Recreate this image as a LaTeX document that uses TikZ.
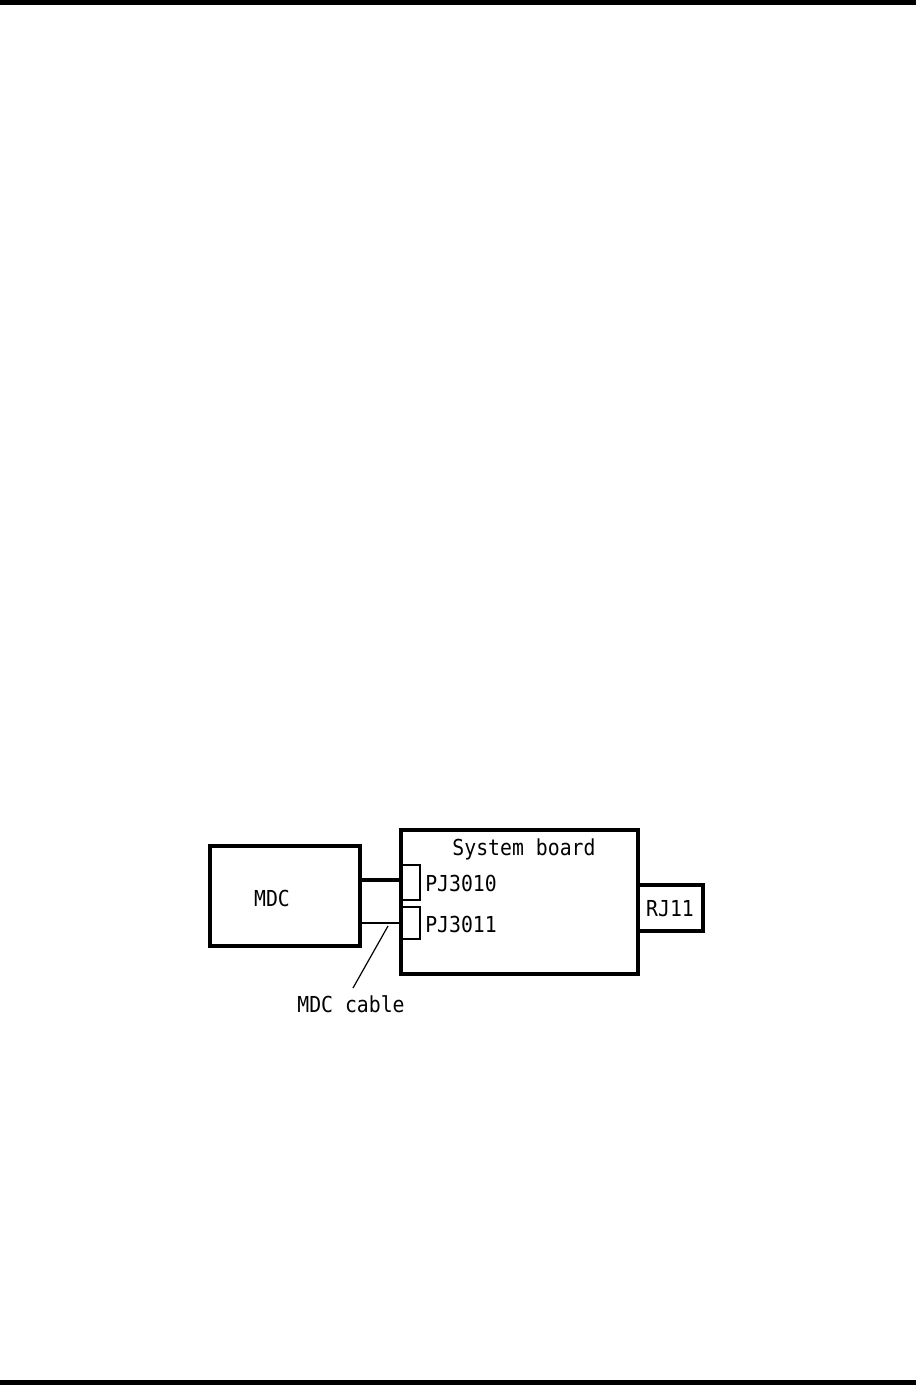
\documentclass[tikz,border=0pt]{standalone}
\usepackage{fontspec}
\setmonofont[FakeStretch=0.9]{DejaVu Sans Mono}
\begin{document}
\begin{tikzpicture}[x=0.75pt,y=-0.75pt,
  box/.style={draw=black,line width=2.3pt},
  conn/.style={draw=black,line width=1.7pt},
  lbl/.style={inner sep=0pt,font=\ttfamily\fontsize{16.5pt}{18pt}\selectfont},
  bar/.style={fill=black,draw=none}]
\useasboundingbox (0,0) rectangle (916,1385);
\fill[white] (0,0) rectangle (916,1385);
% page rules
\path[bar] (0,0) rectangle (916,5);
\path[bar] (0,1380) rectangle (916,1385);
% boxes
\draw[box] (210,846) rectangle (360,946);
\coordinate (mdcR1) at (360,880);
\coordinate (mdcR2) at (360,923);
\draw[box] (401,830) rectangle (638,974);
\draw[conn] (401,865) rectangle (420,900);
\draw[conn] (401,907) rectangle (420,939);
\draw[box] (638,885) rectangle (703,931);
\coordinate (pj0) at (401,880);
\coordinate (pj1) at (401,923);
% cables
\draw[line width=2.4pt] (mdcR1) -- (pj0);
\draw[line width=1.7pt] (mdcR2) -- (pj1);
% labels
\node[lbl] (sys) at (524,849) {System board};
\node[lbl,anchor=west] (p10) at (425,883) {PJ3010};
\node[lbl,anchor=west] (p11) at (425,924) {PJ3011};
\node[lbl] (mdc) at (272,898) {MDC};
\node[lbl] (rj) at (670,909) {RJ11};
\node[lbl] (cab) at (351,1004) {MDC cable};
\coordinate (ptA) at (388,926);
\coordinate (ptB) at (353,988);
\draw[line width=0.9pt] (ptA) -- (ptB);
\end{tikzpicture}
\end{document}
